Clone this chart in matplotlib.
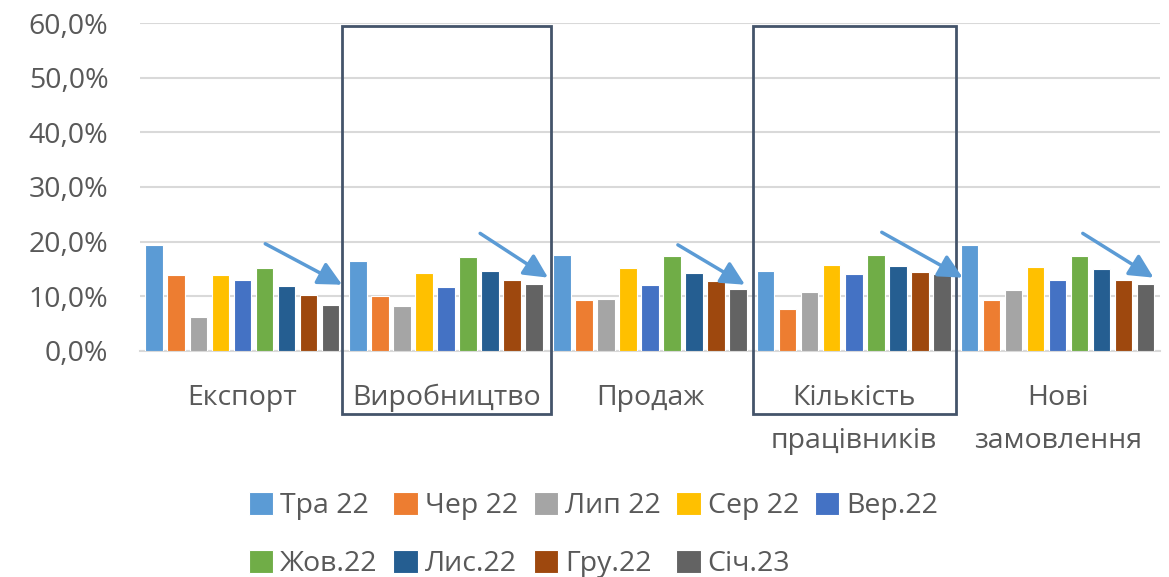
import matplotlib.pyplot as plt
from matplotlib.patches import Rectangle
import numpy as np

plt.rcParams['font.family'] = ['Open Sans', 'DejaVu Sans']

categories = ['Експорт', 'Виробництво', 'Продаж', 'Кількість\nпрацівників', 'Нові\nзамовлення']
months = ['Тра 22', 'Чер 22', 'Лип 22', 'Сер 22', 'Вер.22',
          'Жов.22', 'Лис.22', 'Гру.22', 'Січ.23']

# values in %, one list per month (Експорт, Виробництво, Продаж, Кількість, Нові)
tra22 = [19.4, 16.5, 17.5, 14.7, 19.3]
cher22 = [13.9, 10.1, 9.3, 7.6, 9.3]
lyp22 = [6.2, 8.2, 9.4, 10.8, 11.1]
ser22 = [13.9, 14.3, 15.1, 15.7, 15.3]
ver22 = [12.9, 11.7, 12.1, 14.1, 13.0]
zhov22 = [15.2, 17.1, 17.4, 17.6, 17.4]
lys22 = [11.8, 14.6, 14.3, 15.5, 14.9]
gru22 = [10.2, 13.0, 12.7, 14.4, 13.0]
sich23 = [8.4, 12.2, 11.4, 14.1, 12.2]
series = [tra22, cher22, lyp22, ser22, ver22, zhov22, lys22, gru22, sich23]

colors = ['#5B9BD5', '#ED7D31', '#A5A5A5', '#FFC000', '#4472C4',
          '#70AD47', '#255E91', '#9E480E', '#636363']

fs = 20.5
txt = '#595959'

fig = plt.figure(figsize=(11.69, 5.77), dpi=100)
ax = fig.add_axes([0.12, 0.392, 0.872, 0.568])

x = np.arange(len(categories))
pitch = 0.108
width = 0.085
handles = []
for i, vals in enumerate(series):
    b = ax.bar(x + (i - 4) * pitch, vals, width, color=colors[i],
               edgecolor='white', linewidth=0.8, label=months[i], zorder=3)
    handles.append(b)

ax.set_xlim(-0.5, len(categories) - 0.5)
ax.set_ylim(0, 60)
ax.set_yticks(np.arange(0, 61, 10))
ax.yaxis.set_major_formatter(plt.FuncFormatter(lambda v, p: ('%.1f%%' % v).replace('.', ',')))
ax.set_xticks(x)
ax.set_xticklabels(categories, linespacing=1.7)
ax.tick_params(axis='both', length=0, labelsize=fs, colors=txt)
ax.tick_params(axis='y', pad=23)
ax.tick_params(axis='x', pad=24)
ax.grid(axis='y', color='#D9D9D9', linewidth=1.5, zorder=0)
for s in ['top', 'right', 'left']:
    ax.spines[s].set_visible(False)
ax.spines['bottom'].set_color('#D9D9D9')
ax.spines['bottom'].set_linewidth(1.5)

# boxes around two groups
for cx, l, r in [(1, -0.51, 0.515), (3, -0.495, 0.5)]:
    ax.add_patch(Rectangle((cx + l, -11.6), r - l, 71.0, fill=False,
                           edgecolor='#44546A', linewidth=2, clip_on=False, zorder=5))

# arrows
arrows = [((0.113, 19.6), (0.49, 12.1)),
          ((1.167, 21.5), (1.5, 13.4)),
          ((2.137, 19.4), (2.466, 12.1)),
          ((3.137, 21.7), (3.534, 13.4)),
          ((4.123, 21.5), (4.47, 13.4))]
for (x0, y0), (x1, y1) in arrows:
    ax.annotate('', xy=(x1, y1), xytext=(x0, y0),
                arrowprops=dict(arrowstyle='-|>', lw=2.5, color='#5B9BD5',
                                mutation_scale=36, shrinkA=0, shrinkB=0),
                annotation_clip=False, zorder=6)

# legend: row-major order in 5 columns
order = [0, 5, 1, 6, 2, 7, 3, 8, 4]
fig.legend([handles[i] for i in order], [months[i] for i in order],
           loc='center left', bbox_to_anchor=(249 / 1169, 1 - 535 / 577),
           ncol=5, frameon=False, fontsize=fs,
           handlelength=0.85, handleheight=0.85, handletextpad=0.25,
           columnspacing=0.55, labelspacing=1.05, labelcolor=txt,
           borderpad=0, borderaxespad=0)

fig.savefig('out.png', dpi=100)
